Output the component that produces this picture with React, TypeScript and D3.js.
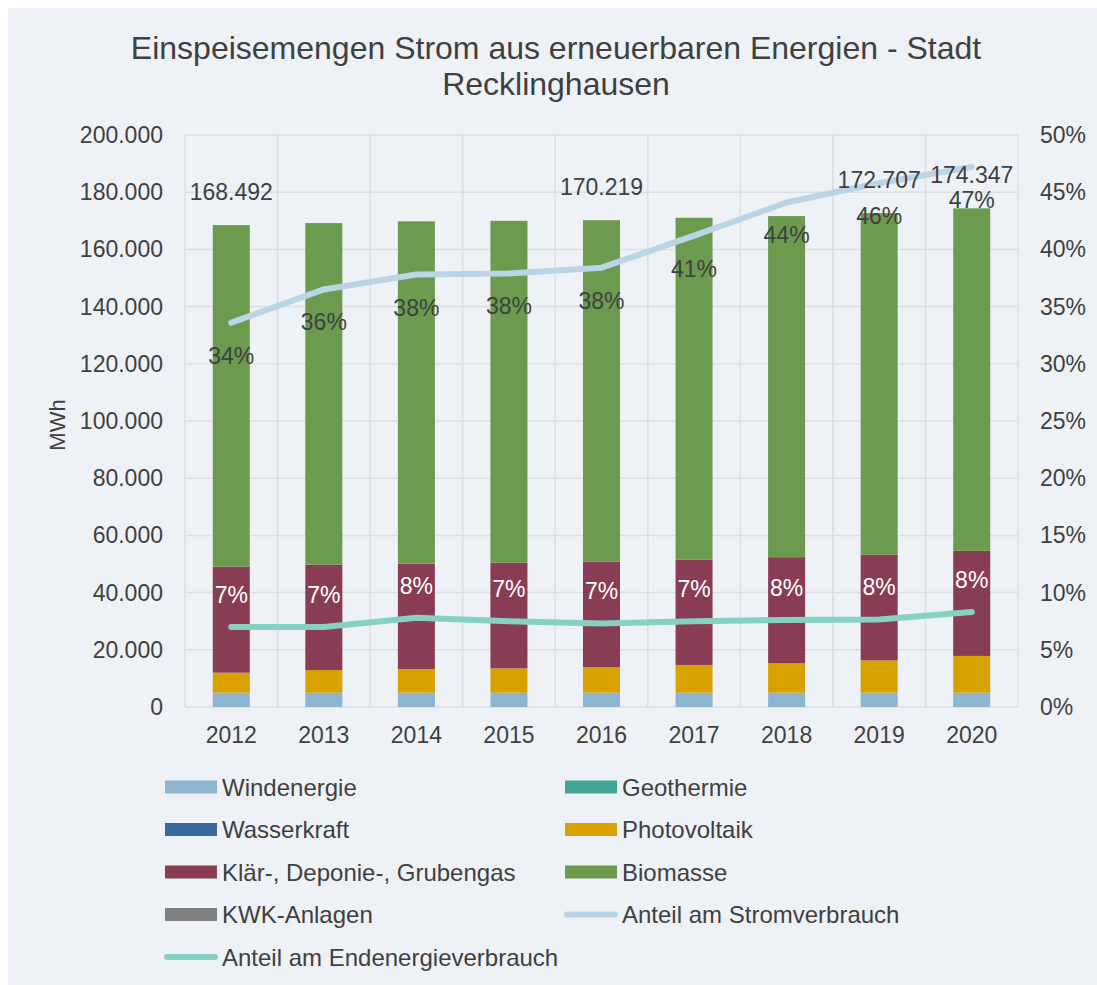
import React from 'react';
import * as d3 from 'd3';

const years = ['2012', '2013', '2014', '2015', '2016', '2017', '2018', '2019', '2020'];
const windenergie = [5000, 5000, 5000, 5000, 5000, 5000, 5000, 5000, 5000];
const geothermie = [0, 0, 0, 0, 0, 0, 0, 0, 0];
const wasserkraft = [0, 0, 0, 0, 0, 0, 0, 0, 0];
const photovoltaik = [7000, 7900, 8300, 8500, 8900, 9700, 10300, 11300, 12850];
const gas = [37100, 36850, 36850, 36960, 36870, 36860, 37100, 36970, 36750];
const biomasse = [119392, 119450, 119650, 119540, 119449, 119490, 119250, 119437, 119747];
const kwk = [0, 0, 0, 0, 0, 0, 0, 0, 0];
const totalLabels = [168492, null, null, null, 170219, null, null, 172707, 174347];
const anteilStrom = [33.6, 36.5, 37.8, 37.9, 38.4, 41.2, 44.1, 45.8, 47.2];
const anteilStromLabels = ['34%', '36%', '38%', '38%', '38%', '41%', '44%', '46%', '47%'];
const anteilEnd = [7.0, 7.0, 7.8, 7.5, 7.3, 7.5, 7.6, 7.65, 8.3];
const anteilEndLabels = ['7%', '7%', '8%', '7%', '7%', '7%', '8%', '8%', '8%'];
const leftTicks = [0, 20000, 40000, 60000, 80000, 100000, 120000, 140000, 160000, 180000, 200000];
const rightTicks = [0, 5, 10, 15, 20, 25, 30, 35, 40, 45, 50];

const barSeries = [
  { key: 'Windenergie', values: windenergie, color: '#8DB5D1' },
  { key: 'Geothermie', values: geothermie, color: '#43A596' },
  { key: 'Wasserkraft', values: wasserkraft, color: '#376A9E' },
  { key: 'Photovoltaik', values: photovoltaik, color: '#D9A100' },
  { key: 'Klär-, Deponie-, Grubengas', values: gas, color: '#893D54' },
  { key: 'Biomasse', values: biomasse, color: '#6C9A4F' },
  { key: 'KWK-Anlagen', values: kwk, color: '#808080' },
];

const W = 1089;
const H = 977;
const m = { left: 177, right: 1010, top: 127, bottom: 699 };
const font = '"Liberation Sans", Arial, sans-serif';
const txt = '#404040';

const de = d3.formatLocale({ decimal: ',', thousands: '.', grouping: [3], currency: ['', '€'] });
const fmt = de.format(',.0f');

export default function App() {
  const x = d3.scaleBand().domain(years).range([m.left, m.right]).paddingInner(0.6).paddingOuter(0.3);
  const xGrid = d3.scaleBand().domain(years).range([m.left, m.right]);
  const y = d3.scaleLinear().domain([0, 200000]).range([m.bottom, m.top]);
  const y2 = d3.scaleLinear().domain([0, 50]).range([m.bottom, m.top]);

  const rows = years.map((yr, i) => {
    const r: any = { year: yr };
    barSeries.forEach((s) => (r[s.key] = s.values[i]));
    return r;
  });
  const stacked = d3.stack().keys(barSeries.map((s) => s.key))(rows);
  const cx = (yr: string) => (x(yr) as number) + x.bandwidth() / 2;

  const line = d3.line<number>().x((_, i) => cx(years[i])).y((d) => y2(d)).curve(d3.curveLinear);

  const legend = [
    ...barSeries.map((s) => ({ key: s.key, color: s.color, type: 'rect' })),
    { key: 'Anteil am Stromverbrauch', color: '#BCD5E6', type: 'line' },
    { key: 'Anteil am Endenergieverbrauch', color: '#86D0C4', type: 'line' },
  ];

  return (
    <svg width={W} height={H} style={{ position: 'absolute', left: 8, top: 8 }} fontFamily={font}>
      <rect width={W} height={H} fill="#EEF2F6" />
      <text x={548} y={51} textAnchor="middle" fontSize={32} fill={txt}>
        Einspeisemengen Strom aus erneuerbaren Energien - Stadt
      </text>
      <text x={548} y={87} textAnchor="middle" fontSize={32} fill={txt}>
        Recklinghausen
      </text>

      {/* grid */}
      {leftTicks.map((t) => (
        <line key={t} x1={m.left} x2={m.right} y1={y(t)} y2={y(t)} stroke="#DCDEE1" strokeWidth={1.5} />
      ))}
      {years.map((yr) => (
        <line key={yr} x1={xGrid(yr)} x2={xGrid(yr)} y1={m.top} y2={m.bottom} stroke="#DCDEE1" strokeWidth={1.5} />
      ))}
      <line x1={m.right} x2={m.right} y1={m.top} y2={m.bottom} stroke="#DCDEE1" strokeWidth={1.5} />

      {/* bars */}
      {stacked.map((layer, li) => (
        <g key={layer.key} fill={barSeries[li].color}>
          {layer.map((d, i) =>
            d[1] - d[0] > 0 ? (
              <rect key={i} x={x(years[i])} width={x.bandwidth()} y={y(d[1])} height={y(d[0]) - y(d[1])} />
            ) : null
          )}
        </g>
      ))}

      {/* lines */}
      <path d={line(anteilStrom) || ''} fill="none" stroke="#BCD5E6" strokeWidth={6} strokeLinecap="round" strokeLinejoin="round" />
      <path d={line(anteilEnd) || ''} fill="none" stroke="#86D0C4" strokeWidth={6} strokeLinecap="round" strokeLinejoin="round" />

      {/* labels */}
      {totalLabels.map((v, i) =>
        v == null ? null : (
          <text key={i} x={cx(years[i])} y={y(stacked[stacked.length - 1][i][1]) - 25} textAnchor="middle" fontSize={23} fill={txt}>
            {fmt(v)}
          </text>
        )
      )}
      {anteilStrom.map((v, i) => (
        <text key={i} x={cx(years[i])} y={y2(v) + 41} textAnchor="middle" fontSize={23} fill={txt}>
          {anteilStromLabels[i]}
        </text>
      ))}
      {anteilEnd.map((v, i) => (
        <text key={i} x={cx(years[i])} y={y2(v) - 24} textAnchor="middle" fontSize={23} fill="#FFFFFF">
          {anteilEndLabels[i]}
        </text>
      ))}

      {/* axes labels */}
      {leftTicks.map((t) => (
        <text key={t} x={155} y={y(t) + 8} textAnchor="end" fontSize={23} fill={txt}>
          {fmt(t)}
        </text>
      ))}
      {rightTicks.map((t) => (
        <text key={t} x={1032} y={y2(t) + 8} textAnchor="start" fontSize={23} fill={txt}>
          {t + '%'}
        </text>
      ))}
      {years.map((yr) => (
        <text key={yr} x={cx(yr)} y={735} textAnchor="middle" fontSize={23} fill={txt}>
          {yr}
        </text>
      ))}
      <text transform="translate(57,417) rotate(-90)" textAnchor="middle" fontSize={22} fill={txt}>
        MWh
      </text>

      {/* legend */}
      {legend.map((l, i) => {
        const col = i % 2;
        const row = Math.floor(i / 2);
        const lx = col === 0 ? 157 : 557;
        const ly = 779 + row * 42.5;
        return (
          <g key={l.key}>
            {l.type === 'rect' ? (
              <rect x={lx} y={ly - 6.5} width={52} height={13} fill={l.color} />
            ) : (
              <line x1={lx + 2} x2={lx + 50} y1={ly} y2={ly} stroke={l.color} strokeWidth={6} strokeLinecap="round" />
            )}
            <text x={lx + 57} y={ly + 8.5} fontSize={24} fill={txt}>
              {l.key}
            </text>
          </g>
        );
      })}
    </svg>
  );
}
